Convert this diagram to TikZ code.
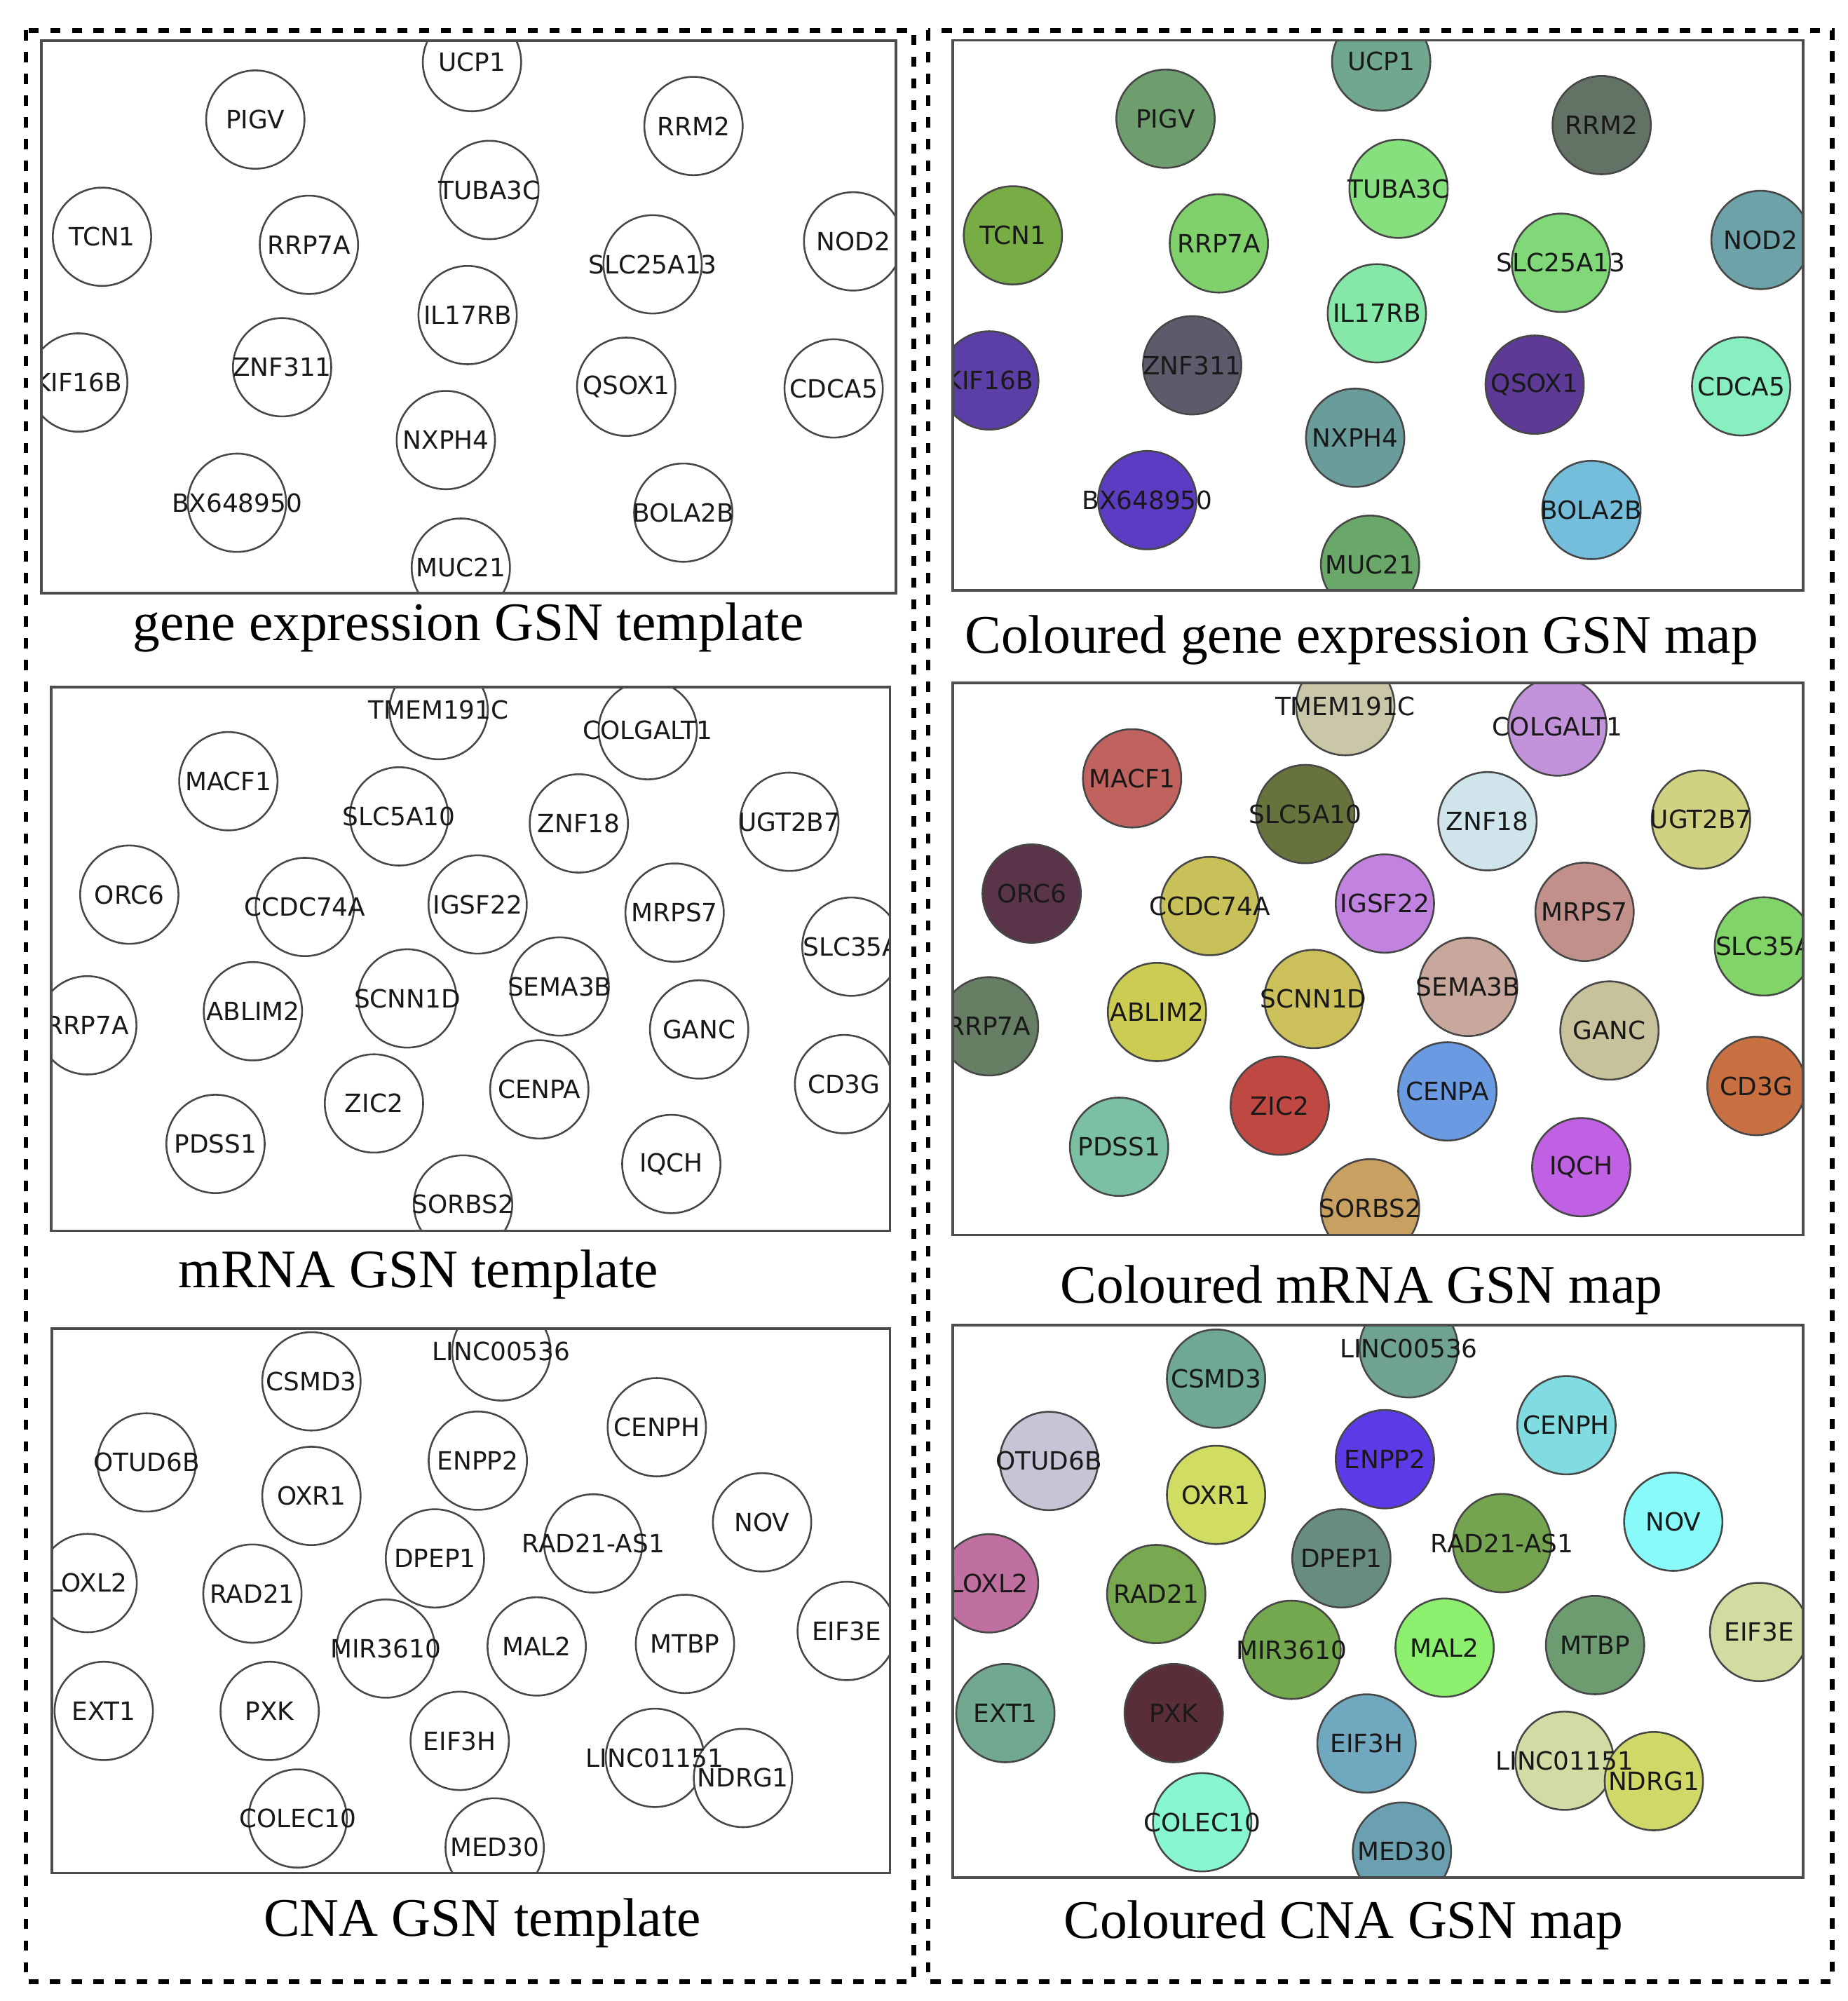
\documentclass[tikz,border=0pt]{standalone}
\usepackage{fontspec}
\setmainfont{Liberation Serif}
\newfontfamily\genefont{DejaVu Sans}
\usepackage{tikz}
\usepackage{xcolor}

% name/x/y/fill, x and y measured from the top left corner of a map
\newcommand\gexlist{UCP1/335.9/16.6/6FA88E, PIGV/166.9/61.4/6E9E6E, RRM2/508.7/66.4/627264,
  TUBA3C/349.5/116.3/86E07E, TCN1/47.3/152.8/78AC45, RRP7A/208.7/159.1/80D06C,
  SLC25A13/476.8/174.3/80D878, NOD2/633.2/156.4/6DA2A8, IL17RB/332.5/213.9/86E8A8,
  KIF16B/28.8/266.5/5C3FA6, ZNF311/187.8/254.6/5E5A6B, QSOX1/456.2/269.8/5C3A96,
  CDCA5/618/271.1/88F0C0, NXPH4/315.5/311.4/6A9C9C, BX648950/152.6/360.3/5C3CC2,
  BOLA2B/500.7/368/74BEDC, MUC21/327.2/410.9/6AA86A}
\newcommand\mrnalist{TMEM191C/307.8/18.3/CAC6A8, COLGALT1/474/34.3/C292DA, MACF1/140.7/74.9/C0625E,
  SLC5A10/276.4/102.9/66733C, ZNF18/419.2/108.5/D0E4EC, UGT2B7/586.5/107.2/D0D282,
  ORC6/62/165.2/5A3448, CCDC74A/201.5/175/C8C058, IGSF22/338.8/173/C282E0,
  MRPS7/495.3/179.5/C2908A, SLC35A/635.8/206.6/80D468, RRP7A/28.6/269.2/667F64,
  ABLIM2/160.2/258/CCCC52, SCNN1D/282.9/247.8/CCC05A, SEMA3B/404/238.3/C8A89C,
  GANC/514.8/272.5/C8C29C, ZIC2/256.4/331.4/C04842, CENPA/387.8/320.2/6A9AE2,
  CD3G/630/316/C87042, PDSS1/130.5/363.6/7CC0A4, IQCH/492.7/379.6/C060E2,
  SORBS2/327.2/411.8/C8A062}
\newcommand\cnalist{LINC00536/357.5/18.2/70A292, CSMD3/206.5/42/70A898, CENPH/481.1/78.5/80DCE0,
  OTUD6B/75.5/106.5/C8C4D6, ENPP2/338.8/105.1/5C3AE8, OXR1/206.5/133.1/D0DC62,
  NOV/564.8/154.1/88FAFA, DPEP1/304.7/182.8/688C80, RAD21-AS1/430.6/170.9/74A450,
  LOXL2/28.6/202.4/C070A0, RAD21/159.6/210.8/78A850, MIR3610/265.6/254.5/74A84E,
  MAL2/385.6/252.8/8CF06E, MTBP/503.5/250.8/6C9C70, EIF3E/632.1/240.5/D0DCA0,
  EXT1/41.4/304.1/70A890, PXK/173.3/304.1/5A2E38, EIF3H/324.4/327.9/70A8C0,
  LINC01151/479.6/341.4/D0DCA4, NDRG1/549.6/357.4/D0D868, COLEC10/195.6/389.6/88F6CE,
  MED30/352.2/412.6/6AA0B0}

\begin{document}
\begin{tikzpicture}[x=0.01cm,y=-0.01cm,
    gene/.style={circle,draw=black!72,line width=0.4pt,minimum size=0.77cm,inner sep=0pt},
    genelbl/.style={font=\genefont\fontsize{5.6}{6}\selectfont,text=black!90,inner sep=0pt},
    mapframe/.style={draw=black!70,line width=0.6pt},
    caption/.style={font=\fontsize{12.1}{14}\selectfont,anchor=base,inner sep=0pt},
    groupbox/.style={draw=black,line width=1.05pt,dash pattern=on 0.08cm off 0.09cm}]
	\useasboundingbox (0,0) rectangle (1448,1568);
	\draw[groupbox] (20.4,23.8) rectangle (716.1,1552.8);
	\draw[groupbox] (727.4,23.8) rectangle (1436,1552.8);

	\begin{scope}[shift={(32.4,32)},xscale=1.0047,yscale=1.0046]
		\begin{scope}
			\clip (0,0) rectangle (666.5,431);
			\foreach \nm/\px/\py/\hx in \gexlist
				\node[gene,fill=white] (gt-\nm) at (\px,\py) {};
			\foreach \nm/\px/\py/\hx in \gexlist
				\node[genelbl] (gtl-\nm) at (gt-\nm) {\nm};
		\end{scope}
		\draw[mapframe] (0,0) rectangle (666.5,431);
	\end{scope}
	\node[caption] (gexcap) at (367,502) {gene expression GSN template};

	\begin{scope}[shift={(746.5,31.6)}]
		\begin{scope}
			\clip (0,0) rectangle (666.5,431);
			\foreach \nm/\px/\py/\hx in \gexlist {
				\definecolor{nodefill}{HTML}{\hx}
				\node[gene,fill=nodefill] (gc-\nm) at (\px,\py) {};
			}
			\foreach \nm/\px/\py/\hx in \gexlist
				\node[genelbl] (gcl-\nm) at (gc-\nm) {\nm};
		\end{scope}
		\draw[mapframe] (0,0) rectangle (666.5,431);
	\end{scope}
	\node[caption] (gexmapcap) at (1067,512) {Coloured gene expression GSN map};

	\begin{scope}[shift={(40.2,538.4)},xscale=0.9862,yscale=0.9845]
		\begin{scope}
			\clip (0,0) rectangle (666.5,432.8);
			\foreach \nm/\px/\py/\hx in \mrnalist
				\node[gene,fill=white] (mt-\nm) at (\px,\py) {};
			\foreach \nm/\px/\py/\hx in \mrnalist
				\node[genelbl] (mtl-\nm) at (mt-\nm) {\nm};
		\end{scope}
		\draw[mapframe] (0,0) rectangle (666.5,432.8);
	\end{scope}
	\node[caption] (mrnacap) at (328,1009) {mRNA GSN template};

	\begin{scope}[shift={(746.5,535)}]
		\begin{scope}
			\clip (0,0) rectangle (666.5,432.8);
			\foreach \nm/\px/\py/\hx in \mrnalist {
				\definecolor{nodefill}{HTML}{\hx}
				\node[gene,fill=nodefill] (mc-\nm) at (\px,\py) {};
			}
			\foreach \nm/\px/\py/\hx in \mrnalist
				\node[genelbl] (mcl-\nm) at (mc-\nm) {\nm};
		\end{scope}
		\draw[mapframe] (0,0) rectangle (666.5,432.8);
	\end{scope}
	\node[caption] (mrnamapcap) at (1067,1021) {Coloured mRNA GSN map};

	\begin{scope}[shift={(40.5,1041)},xscale=0.9857,yscale=0.9855]
		\begin{scope}
			\clip (0,0) rectangle (666.5,433);
			\foreach \nm/\px/\py/\hx in \cnalist
				\node[gene,fill=white] (ct-\nm) at (\px,\py) {};
			\foreach \nm/\px/\py/\hx in \cnalist
				\node[genelbl] (ctl-\nm) at (ct-\nm) {\nm};
		\end{scope}
		\draw[mapframe] (0,0) rectangle (666.5,433);
	\end{scope}
	\node[caption] (cnacap) at (378,1517) {CNA GSN template};

	\begin{scope}[shift={(746.5,1038.3)}]
		\begin{scope}
			\clip (0,0) rectangle (666.5,433);
			\foreach \nm/\px/\py/\hx in \cnalist {
				\definecolor{nodefill}{HTML}{\hx}
				\node[gene,fill=nodefill] (cc-\nm) at (\px,\py) {};
			}
			\foreach \nm/\px/\py/\hx in \cnalist
				\node[genelbl] (ccl-\nm) at (cc-\nm) {\nm};
		\end{scope}
		\draw[mapframe] (0,0) rectangle (666.5,433);
	\end{scope}
	\node[caption] (cnamapcap) at (1053,1519) {Coloured CNA GSN map};
\end{tikzpicture}
\end{document}
